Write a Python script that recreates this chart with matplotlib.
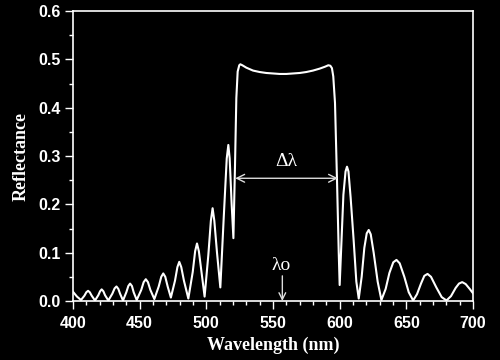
import matplotlib
matplotlib.use("Agg")
import matplotlib.pyplot as plt
from matplotlib.ticker import MultipleLocator

wavelength = [
    400.0, 403.0, 406.0, 408.6, 410.0, 411.3, 412.6, 414.0, 416.5, 419.0,
    420.3, 421.5, 422.8, 424.0, 426.5, 429.5, 431.2, 432.6, 434.0, 435.3,
    437.5, 440.0, 441.5, 442.8, 444.2, 445.5, 447.8, 451.2, 453.0, 454.6,
    456.2, 458.0, 461.0, 464.3, 466.2, 467.7, 469.2, 471.0, 473.4, 476.5,
    478.3, 479.7, 481.2, 483.2, 486.5, 489.8, 491.6, 493.0, 494.4, 496.3,
    498.7, 501.5, 503.4, 504.7, 506.0, 508.0, 510.5, 513.0, 515.3, 516.5,
    517.5, 519.0, 520.3, 521.5, 522.5, 523.5, 524.7, 525.5, 527.0, 530.0,
    535.0, 540.0, 545.0, 550.0, 555.0, 560.0, 565.0, 570.0, 575.0, 580.0,
    585.0, 589.0, 591.5, 593.0, 594.2, 595.2, 596.5, 598.0, 599.3, 600.0,
    601.3, 602.8, 604.4, 605.5, 606.6, 608.2, 610.5, 612.5, 614.3, 616.5,
    618.5, 620.3, 621.8, 623.3, 625.5, 628.5, 631.3, 634.5, 637.3, 640.2,
    642.6, 645.0, 648.5, 651.8, 655.1, 658.0, 661.0, 663.5, 665.9, 668.5,
    672.5, 676.5, 680.1, 683.5, 687.0, 689.5, 691.9, 694.5, 697.5, 700.0,
]
reflectance = [
    0.019, 0.009, 0.002, 0.011, 0.018, 0.021, 0.018, 0.011, 0.001, 0.012,
    0.020, 0.024, 0.020, 0.012, 0.001, 0.015, 0.026, 0.030, 0.025, 0.015,
    0.001, 0.018, 0.031, 0.036, 0.031, 0.018, 0.002, 0.023, 0.039, 0.045,
    0.039, 0.023, 0.004, 0.030, 0.050, 0.057, 0.050, 0.030, 0.007, 0.042,
    0.070, 0.081, 0.070, 0.042, 0.005, 0.060, 0.103, 0.119, 0.103, 0.062,
    0.009, 0.095, 0.166, 0.192, 0.166, 0.100, 0.028, 0.170, 0.295, 0.323,
    0.295, 0.200, 0.130, 0.280, 0.420, 0.475, 0.488, 0.490, 0.488, 0.483,
    0.477, 0.474, 0.472, 0.471, 0.470, 0.470, 0.471, 0.472, 0.474, 0.477,
    0.481, 0.485, 0.488, 0.487, 0.482, 0.465, 0.410, 0.250, 0.100, 0.033,
    0.120, 0.220, 0.268, 0.278, 0.268, 0.215, 0.125, 0.040, 0.005, 0.050,
    0.110, 0.140, 0.147, 0.138, 0.100, 0.040, 0.002, 0.025, 0.058, 0.080,
    0.085, 0.078, 0.050, 0.018, 0.001, 0.014, 0.036, 0.052, 0.056, 0.050,
    0.028, 0.008, 0.001, 0.010, 0.027, 0.036, 0.039, 0.035, 0.025, 0.016,
]

x_ticks = [400, 450, 500, 550, 600, 650, 700]
y_ticks = [0.0, 0.1, 0.2, 0.3, 0.4, 0.5, 0.6]
bandwidth_span = (521.7, 598.7)
bandwidth_level = 0.254
center_wavelength = 557

fg = "white"
fig = plt.figure(figsize=(5.0, 3.6), dpi=100, facecolor="black")
ax = fig.add_axes([0.146, 0.164, 0.800, 0.805], facecolor="black")

ax.plot(wavelength, reflectance, color=fg, lw=1.5)

ax.set_xlim(400, 700)
ax.set_ylim(0, 0.6)
ax.set_xticks(x_ticks)
ax.set_yticks(y_ticks)
ax.set_xticklabels([str(v) for v in x_ticks])
ax.set_yticklabels([f"{v:.1f}" for v in y_ticks])
ax.xaxis.set_minor_locator(MultipleLocator(10))
ax.yaxis.set_minor_locator(MultipleLocator(0.05))

for s in ax.spines.values():
    s.set_color(fg)
    s.set_linewidth(1.2)
ax.tick_params(which="major", direction="out", length=6, width=1.0,
               colors=fg, pad=3)
ax.tick_params(axis="x", which="major", pad=5)
ax.tick_params(which="minor", direction="out", length=3, width=1.0,
               colors=fg)
for lab in ax.get_xticklabels() + ax.get_yticklabels():
    lab.set_family("Liberation Sans")
    lab.set_fontweight("bold")
    lab.set_fontsize(11.5)
    lab.set_color(fg)

ax.set_xlabel("Wavelength (nm)", family="Liberation Serif", fontweight="bold",
              fontsize=13, color=fg, labelpad=4)
ax.set_ylabel("Reflectance", family="Liberation Serif", fontweight="bold",
              fontsize=13, color=fg, labelpad=6)

ax.annotate("", xy=(bandwidth_span[0], bandwidth_level),
            xytext=(bandwidth_span[1], bandwidth_level),
            arrowprops=dict(arrowstyle="<->", color="#dddddd", lw=1.0,
                            shrinkA=0, shrinkB=0, mutation_scale=14))
ax.text(sum(bandwidth_span) / 2, bandwidth_level + 0.018, "Δλ",
        family="Liberation Serif", fontsize=14, color=fg,
        ha="center", va="bottom")

ax.annotate("", xy=(center_wavelength, 0.0), xytext=(center_wavelength, 0.052),
            arrowprops=dict(arrowstyle="->", color="#dddddd", lw=1.0,
                            shrinkA=0, shrinkB=0, mutation_scale=12))
ax.text(center_wavelength - 1, 0.056, "λo", family="Liberation Serif",
        fontsize=14, color=fg, ha="center", va="bottom")

fig.savefig("out.png", dpi=100, facecolor="black")
